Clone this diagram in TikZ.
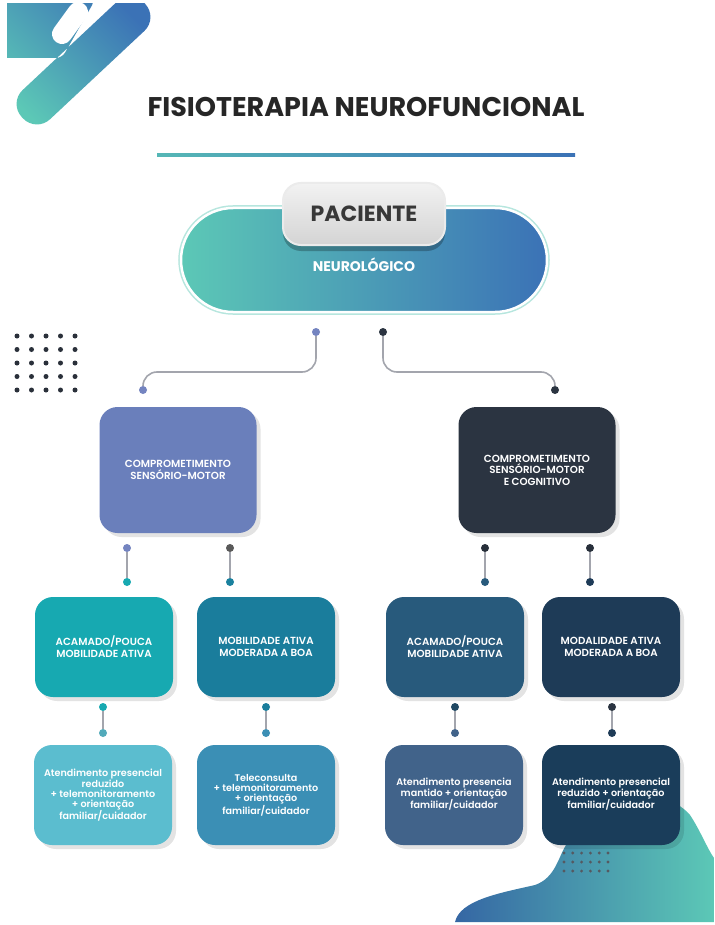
\documentclass[tikz,border=0pt]{standalone}
\usepackage{fontspec}
\setmainfont{Poppins}
\newfontfamily\semib{Poppins SemiBold}
\usetikzlibrary{shadows}
\definecolor{tealA}{HTML}{5CC8B6}
\definecolor{blueA}{HTML}{3B72B6}
\definecolor{lav}{HTML}{7484C0}
\definecolor{cL}{HTML}{6A7FBB}
\definecolor{cR}{HTML}{2B3441}
\definecolor{cA}{HTML}{17A9B1}
\definecolor{cB}{HTML}{1A7D9C}
\definecolor{cC}{HTML}{285A7C}
\definecolor{cD}{HTML}{1E3B57}
\definecolor{cAA}{HTML}{5BBDCF}
\definecolor{cBB}{HTML}{3B8FB5}
\definecolor{cCC}{HTML}{41638A}
\definecolor{cDD}{HTML}{1A3D5A}
\definecolor{lineg}{HTML}{A3A5AD}
\definecolor{dotg}{HTML}{2A303A}
\begin{document}
\begin{tikzpicture}[x=1pt,y=-1pt,
  card/.style={rounded corners=18pt, text=white, align=center,
    drop shadow={shadow xshift=4pt, shadow yshift=-4pt, opacity=0.11, fill=black}},
  big/.style={card, minimum width=157pt, minimum height=126pt,
    font=\semib\fontsize{10.3}{11.5}\selectfont},
  mid/.style={card, minimum width=138pt, minimum height=100pt,
    font=\semib\fontsize{10.3}{12}\selectfont},
  low/.style={card, minimum width=138pt, minimum height=100pt,
    font=\semib\fontsize{9.6}{10}\selectfont},
  dot/.style={circle, inner sep=0pt, minimum size=8pt},
  conn/.style={draw=lineg, line width=1.6pt, rounded corners=14pt},
  gdot/.style={circle, fill=dotg, inner sep=0pt, minimum size=5pt}]
\path[use as bounding box, fill=white] (0,0) rectangle (714,925);

% top-left decoration
\begin{scope}
  \clip (7,4) rectangle (200,140);
  \begin{scope}
    \clip[rounded corners=19pt] (158.3,17.9) -- (130.9,-11.3) -- (8.7,103.1) -- (36.1,132.3) -- cycle
      [rounded corners=6pt] (0,0) -- (95,0) -- (62,58) -- (0,58) -- cycle;
    \shade[left color=tealA, right color=blueA, shading angle=135] (0,130) rectangle (160,0);
  \end{scope}
  \draw[white, line width=20pt, line cap=round] (78,12) -- (62,34);
\end{scope}

% bottom-right wave
\shade[left color=blueA!90!black, right color=tealA]
  (455,922) .. controls (460,900) and (500,893) .. (535,885)
  .. controls (555,878) and (558,858) .. (566,845)
  .. controls (590,800) and (660,780) .. (690,815)
  .. controls (700,830) and (708,850) .. (714,858)
  -- (714,922) -- cycle;

% left dot grid
\foreach \i in {0,...,4}{\foreach \j in {0,...,4}{
  \node[gdot] (g\i\j) at (17+14.5*\i, 336+13.5*\j) {};}}

% title
\node[font=\bfseries\fontsize{27}{32}\selectfont, text=black!85] (title) at (366,107) {FISIOTERAPIA NEUROFUNCIONAL};
\shade[left color=tealA!80!blueA, right color=blueA] (157,153.5) rectangle (575,156.5);

% pill
\node[rounded corners=52pt, minimum width=366pt, minimum height=104pt,
  left color=tealA, right color=blueA, draw=white, line width=2.5pt,
  preaction={draw=tealA!45, line width=5.5pt},
  text=white, font=\bfseries\fontsize{14}{16}\selectfont, text depth=0pt]
  (neuro) at (364,260) {\raisebox{-10pt}{NEUROLÓGICO}};
\node[rounded corners=18pt, minimum width=162pt, minimum height=62pt,
  top color=white!95!black, bottom color=black!17, draw=black!8, line width=2pt,
  drop shadow={shadow xshift=0pt, shadow yshift=-6pt, opacity=0.25, fill=black},
  text=black!78, font=\bfseries\fontsize{22}{26}\selectfont]
  (pac) at (364,214) {PACIENTE};

% level 1
\node[big, fill=cL] (L1) at (178,470) {COMPROMETIMENTO\\SENSÓRIO-MOTOR};
\node[big, fill=cR] (R1) at (537,470) {COMPROMETIMENTO\\SENSÓRIO-MOTOR\\E COGNITIVO};

\node[dot, fill=lav] (p1) at (316,332) {};
\node[dot, fill=lav] (p2) at (143,390) {};
\node[dot, fill=cR] (p3) at (383,332) {};
\node[dot, fill=cR] (p4) at (555,390) {};
\coordinate (m1) at (230,372);
\coordinate (m2) at (470,372);
\draw[conn] (p1.south) |- (m1) -| (p2.north);
\draw[conn] (p3.south) |- (m2) -| (p4.north);

% level 2
\node[mid, fill=cA] (A) at (104,647) {ACAMADO/POUCA\\MOBILIDADE ATIVA};
\node[mid, fill=cB] (B) at (266,647) {MOBILIDADE ATIVA\\MODERADA A BOA};
\node[mid, fill=cC] (C) at (455,647) {ACAMADO/POUCA\\MOBILIDADE ATIVA};
\node[mid, fill=cD] (D) at (611,647) {MODALIDADE ATIVA\\MODERADA A BOA};

\node[dot, fill=lav] (q1) at (127,548) {};
\node[dot, fill=cA] (q2) at (127,582) {};
\node[dot, fill=black!65] (q3) at (230,548) {};
\node[dot, fill=cB!90!cA] (q4) at (230,582) {};
\node[dot, fill=cR!90!black] (q5) at (485,548) {};
\node[dot, fill=cC] (q6) at (485,582) {};
\node[dot, fill=cR!90!black] (q7) at (590,548) {};
\node[dot, fill=cD] (q8) at (590,582) {};
\draw[conn] (q1.south) -- (q2.north);
\draw[conn] (q3.south) -- (q4.north);
\draw[conn] (q5.south) -- (q6.north);
\draw[conn] (q7.south) -- (q8.north);

% level 3
\node[low, fill=cAA] (AA) at (103,795) {Atendimento presencial\\reduzido\\+ telemonitoramento\\+ orientação\\familiar/cuidador};
\node[low, fill=cBB] (BB) at (266,795) {Teleconsulta\\+ telemonitoramento\\+ orientação\\familiar/cuidador};
\node[low, fill=cCC] (CC) at (454,795) {\raisebox{10pt}{\begin{tabular}{@{}c@{}}Atendimento presencia\\mantido + orientação\\familiar/cuidador\end{tabular}}};
\node[low, fill=cDD] (DD) at (611,795) {\raisebox{10pt}{\begin{tabular}{@{}c@{}}Atendimento presencial\\reduzido + orientação\\familiar/cuidador\end{tabular}}};

\node[dot, fill=cA] (r1) at (103,707) {};
\node[dot, fill=cAA!90!black] (r2) at (103,733) {};
\node[dot, fill=cB] (r3) at (266,707) {};
\node[dot, fill=cBB] (r4) at (266,733) {};
\node[dot, fill=cC!80!black] (r5) at (455,707) {};
\node[dot, fill=cCC] (r6) at (455,733) {};
\node[dot, fill=cR] (r7) at (612,707) {};
\node[dot, fill=cD] (r8) at (612,733) {};
\draw[conn] (r1.south) -- (r2.north);
\draw[conn] (r3.south) -- (r4.north);
\draw[conn] (r5.south) -- (r6.north);
\draw[conn] (r7.south) -- (r8.north);

% bottom-right dot grid
\foreach \i in {0,...,5}{\foreach \j in {0,...,2}{
  \node[gdot, minimum size=3.2pt, fill=dotg!80] (h\i\j) at (564+8.8*\i, 853+9*\j) {};}}
\end{tikzpicture}
\end{document}
